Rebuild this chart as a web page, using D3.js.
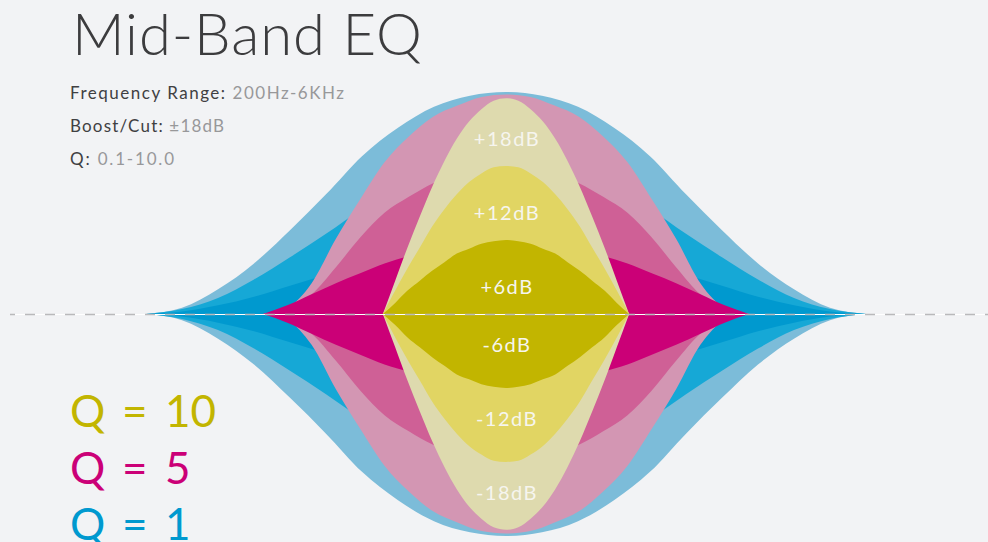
<!DOCTYPE html>
<html>
<head>
<meta charset="utf-8">
<script src="https://cdn.jsdelivr.net/npm/d3@7"></script>
<style>
  html, body { margin: 0; padding: 0; background: #f2f3f5; }
  svg { display: block; }
  text { font-family: Lato, "Open Sans", sans-serif; }
</style>
</head>
<body>
<svg id="chart" width="988" height="542"></svg>
<script>
// ---------- data ----------
const title = "Mid-Band EQ";
const specLabels = ["Frequency Range:", "Boost/Cut:", "Q:"];
const specValues = ["200Hz-6KHz", "±18dB", "0.1-10.0"];

const qValues = [10, 5, 1];
const gains = [6, 12, 18];
const gainLabelsUp = ["+6dB", "+12dB", "+18dB"];
const gainLabelsDown = ["-6dB", "-12dB", "-18dB"];

// relative frequency position (centre = 0, Q=1 band edges = ±1)
const q1X = [-1, -0.9, -0.8, -0.7, -0.6, -0.5, -0.4, -0.3, -0.2, -0.1, 0, 0.1, 0.2, 0.3, 0.4, 0.5, 0.6, 0.7, 0.8, 0.9, 1];
const q5X = [-0.675, -0.6075, -0.54, -0.4725, -0.405, -0.3375, -0.27, -0.2025, -0.135, -0.0675, 0, 0.0675, 0.135, 0.2025, 0.27, 0.3375, 0.405, 0.4725, 0.54, 0.6075, 0.675];
const q10X = [-0.342, -0.3078, -0.2736, -0.2394, -0.2052, -0.171, -0.1368, -0.1026, -0.0684, -0.0342, 0, 0.0342, 0.0684, 0.1026, 0.1368, 0.171, 0.2052, 0.2394, 0.2736, 0.3078, 0.342];

// gain (dB) of each curve at those positions
const q1Gain18 = [0, 0.5, 2.0, 4.1, 6.8, 9.7, 12.8, 15.1, 16.8, 17.7, 18, 17.7, 16.8, 15.1, 12.8, 9.7, 6.8, 4.1, 2.0, 0.5, 0];
const q1Gain12 = [0, 0.4, 1.3, 2.8, 4.6, 6.5, 8.5, 10.1, 11.2, 11.8, 12, 11.8, 11.2, 10.1, 8.5, 6.5, 4.6, 2.8, 1.3, 0.4, 0];
const q1Gain6  = [0, 0.2, 0.7, 1.4, 2.3, 3.2, 4.3, 5.0, 5.6, 5.9, 6, 5.9, 5.6, 5.0, 4.3, 3.2, 2.3, 1.4, 0.7, 0.2, 0];

const q5Gain18 = [0, 0.5, 2.5, 6.1, 9.3, 12.3, 14.4, 16.0, 16.9, 17.6, 17.8, 17.6, 16.9, 16.0, 14.4, 12.3, 9.3, 6.1, 2.5, 0.5, 0];
const q5Gain12 = [0, 0.5, 1.6, 3.8, 6.2, 8.2, 9.5, 10.6, 11.4, 11.9, 12, 11.9, 11.4, 10.6, 9.5, 8.2, 6.2, 3.8, 1.6, 0.5, 0];
const q5Gain6  = [0, 0.7, 1.6, 2.5, 3.3, 4.1, 4.7, 5.3, 5.7, 5.9, 6, 5.9, 5.7, 5.3, 4.7, 4.1, 3.3, 2.5, 1.6, 0.7, 0];

const q10Gain18 = [0, 2.7, 5.4, 7.9, 10.3, 12.4, 14.2, 15.6, 16.6, 17.3, 17.5, 17.3, 16.6, 15.6, 14.2, 12.4, 10.3, 7.9, 5.4, 2.7, 0];
const q10Gain12 = [0, 1.9, 3.7, 5.4, 7.1, 8.5, 9.7, 10.7, 11.4, 11.9, 12, 11.9, 11.4, 10.7, 9.7, 8.5, 7.1, 5.4, 3.7, 1.9, 0];
const q10Gain6  = [0, 0.9, 1.9, 2.7, 3.5, 4.2, 4.9, 5.3, 5.7, 5.9, 6, 5.9, 5.7, 5.3, 4.9, 4.2, 3.5, 2.7, 1.9, 0.9, 0];

// ---------- styles ----------
const colors = {
  1:  { 18: "#7cbcd9", 12: "#16a8d6", 6: "#0099cf", legend: "#0099cf" },
  5:  { 18: "#d396b3", 12: "#cf6096", 6: "#cb0077", legend: "#cb0077" },
  10: { 18: "#dedaae", 12: "#e1d563", 6: "#c2b500", legend: "#c2b500" }
};

const series = [
  { q: 1,  g: 18, x: q1X,  y: q1Gain18 },
  { q: 1,  g: 12, x: q1X,  y: q1Gain12 },
  { q: 1,  g: 6,  x: q1X,  y: q1Gain6 },
  { q: 5,  g: 18, x: q5X,  y: q5Gain18 },
  { q: 5,  g: 12, x: q5X,  y: q5Gain12 },
  { q: 5,  g: 6,  x: q5X,  y: q5Gain6 },
  { q: 10, g: 18, x: q10X, y: q10Gain18 },
  { q: 10, g: 12, x: q10X, y: q10Gain12 },
  { q: 10, g: 6,  x: q10X, y: q10Gain6 }
];

// ---------- drawing ----------
const svg = d3.select("#chart");
const x = d3.scaleLinear().domain([-1, 1]).range([146, 866]);
const y = d3.scaleLinear().domain([-18, 18]).range([536, 92]);

const area = d3.area()
  .curve(d3.curveMonotoneX)
  .x(d => x(d[0]))
  .y0(d => y(-d[1]))
  .y1(d => y(d[1]));

svg.append("g").selectAll("path")
  .data(series)
  .join("path")
  .attr("d", s => area(s.x.map((v, i) => [v, s.y[i]])))
  .attr("fill", s => colors[s.q][s.g]);

// zero line
svg.append("line")
  .attr("x1", 10).attr("x2", 988)
  .attr("y1", y(0) + 0.5).attr("y2", y(0) + 0.5)
  .attr("stroke", "#ffffff").attr("stroke-width", 1.2);
svg.append("line")
  .attr("x1", 10).attr("x2", 988)
  .attr("y1", y(0) + 0.5).attr("y2", y(0) + 0.5)
  .attr("stroke", "#b9b9bb").attr("stroke-width", 1.5)
  .attr("stroke-dasharray", "10,10")
  .attr("stroke-dashoffset", 5);

// gain labels
const lab = svg.append("g")
  .attr("font-size", 20)
  .attr("fill", "#f6f5ee")
  .attr("text-anchor", "middle")
  .attr("letter-spacing", 1.5);
lab.selectAll("text.up").data(gains).join("text")
  .attr("class", "up")
  .attr("x", x(0) + 1).attr("y", g => y(g) + 54)
  .text((g, i) => gainLabelsUp[i]);
lab.selectAll("text.down").data(gains).join("text")
  .attr("class", "down")
  .attr("x", x(0) + 1).attr("y", g => y(-g) - 36)
  .text((g, i) => gainLabelsDown[i]);

// title
svg.append("text")
  .attr("x", 72).attr("y", 55)
  .attr("font-size", 58).attr("font-weight", 300)
  .attr("fill", "#3c3c3e")
  .attr("textLength", 350).attr("lengthAdjust", "spacing")
  .text(title);

// spec lines
const specWidths = [274, 154, 104];
specLabels.forEach((l, i) => {
  const t = svg.append("text")
    .attr("x", 70).attr("y", 99 + i * 33)
    .attr("font-size", 17)
    .attr("textLength", specWidths[i]).attr("lengthAdjust", "spacing");
  t.append("tspan").attr("fill", "#404042").text(l + " ");
  t.append("tspan").attr("fill", "#98989a").text(specValues[i]);
});

// legend
const legend = svg.append("g").attr("font-size", 44);
qValues.forEach((q, i) => {
  const t = legend.append("text")
    .attr("y", 427 + i * 56.5)
    .attr("fill", colors[q].legend);
  t.append("tspan").attr("x", 70).text("Q");
  t.append("tspan").attr("x", 122).text("=");
  t.append("tspan").attr("x", 165).text(String(q));
});
</script>
</body>
</html>
